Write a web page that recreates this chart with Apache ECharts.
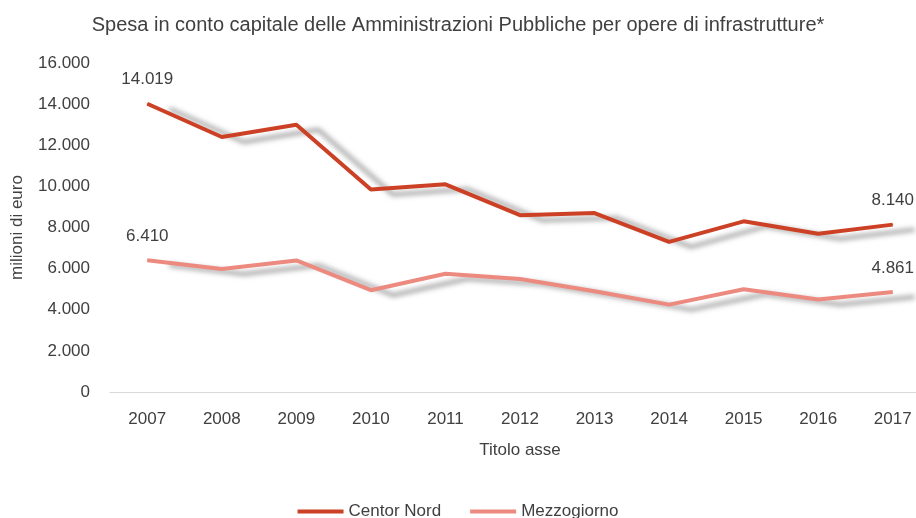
<!DOCTYPE html>
<html>
<head>
<meta charset="utf-8">
<script src="https://cdn.jsdelivr.net/npm/echarts@6/dist/echarts.min.js"></script>
<style>
  html, body { margin: 0; padding: 0; background: #fff; }
  #chart { width: 916px; height: 518px; }
</style>
</head>
<body>
<div id="chart"></div>
<script>
// anni (asse x)
const years = ['2007', '2008', '2009', '2010', '2011', '2012', '2013', '2014', '2015', '2016', '2017'];
// milioni di euro
const centroNord = [14019, 12400, 13000, 9850, 10100, 8600, 8700, 7300, 8300, 7700, 8140];
const mezzogiorno = [6410, 5980, 6400, 4950, 5750, 5500, 4900, 4250, 5000, 4500, 4861];
// etichette asse y
const yTicks = [0, 2000, 4000, 6000, 8000, 10000, 12000, 14000, 16000];

const FONT = 'Liberation Sans';

// formato italiano 14.019
function fmt(v) {
    return String(v).replace(/\B(?=(\d{3})+(?!\d))/g, '.');
}

// solo primo e ultimo punto con etichetta
function withLabels(arr) {
    return arr.map((v, i) => ({
        value: v,
        label: {show: i === 0 || i === arr.length - 1}
    }));
}

const chart = echarts.init(document.getElementById('chart'));

function lineSeries(name, data, color) {
    return {
        name: name,
        type: 'line',
        data: withLabels(data),
        symbol: 'circle',
        symbolSize: 1,
        itemStyle: {color: color},
        lineStyle: {
            color: color,
            width: 4,
            shadowColor: 'rgba(90,90,90,0.55)',
            shadowBlur: 5,
            shadowOffsetX: 22,
            shadowOffsetY: 5
        },
        label: {
            position: 'top',
            distance: 15,
            color: '#404040',
            fontFamily: FONT,
            fontSize: 17,
            formatter: p => fmt(p.value)
        },
        emphasis: {disabled: true},
        animation: false
    };
}

const option = {
    backgroundColor: '#ffffff',
    title: {
        text: 'Spesa in conto capitale delle Amministrazioni Pubbliche per opere di infrastrutture*',
        left: 'center',
        top: 10,
        textStyle: {
            color: '#404040',
            fontFamily: FONT,
            fontSize: 20,
            fontWeight: 'normal'
        }
    },
    grid: {
        left: 110,
        top: 63,
        right: -14,
        bottom: 126,
        outerBoundsMode: 'none'
    },
    legend: {
        top: 498,
        left: 'center',
        icon: 'rect',
        itemWidth: 46,
        itemHeight: 4,
        itemGap: 29,
        textStyle: {color: '#404040', fontFamily: FONT, fontSize: 17},
        data: ['Centor Nord', 'Mezzogiorno']
    },
    xAxis: {
        type: 'category',
        data: years,
        boundaryGap: true,
        name: 'Titolo asse',
        nameLocation: 'middle',
        nameGap: 50,
        nameTextStyle: {color: '#404040', fontFamily: FONT, fontSize: 17},
        axisLine: {show: true, lineStyle: {color: '#d9d9d9', width: 1}},
        axisTick: {show: false},
        axisLabel: {color: '#404040', fontFamily: FONT, fontSize: 17, margin: 19}
    },
    yAxis: {
        type: 'value',
        min: yTicks[0],
        max: yTicks[yTicks.length - 1],
        interval: yTicks[1] - yTicks[0],
        name: 'milioni di euro',
        nameLocation: 'middle',
        nameGap: 84,
        nameTextStyle: {color: '#404040', fontFamily: FONT, fontSize: 17},
        axisLine: {show: false},
        axisTick: {show: false},
        splitLine: {show: false},
        axisLabel: {
            color: '#404040',
            fontFamily: FONT,
            fontSize: 17,
            margin: 20,
            formatter: v => fmt(v)
        }
    },
    series: [
        lineSeries('Centor Nord', centroNord, '#CC4125'),
        lineSeries('Mezzogiorno', mezzogiorno, '#EC8A80')
    ]
};

chart.setOption(option);
</script>
</body>
</html>
